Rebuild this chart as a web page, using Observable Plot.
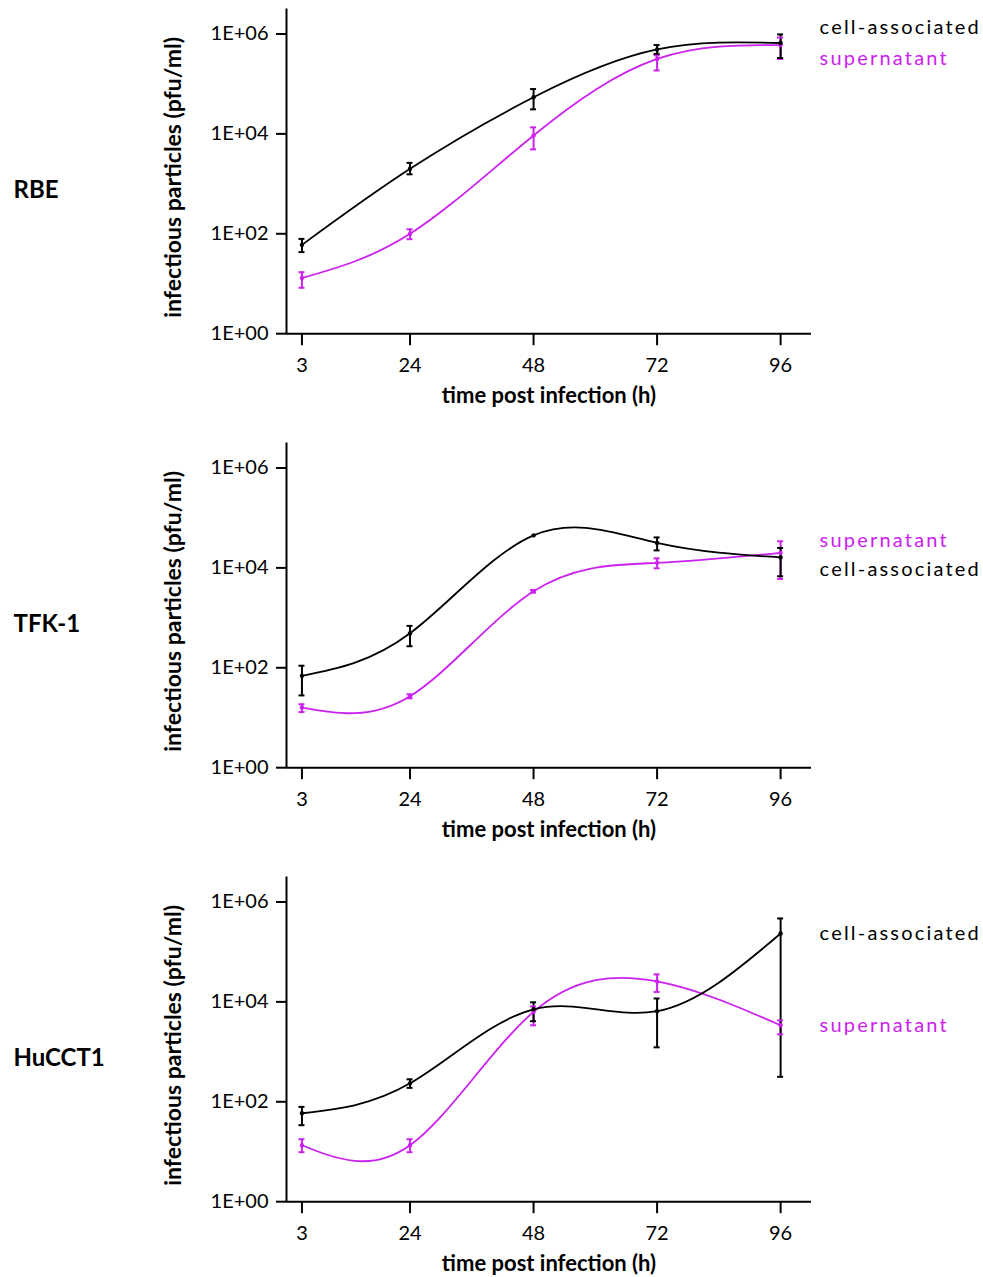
<!DOCTYPE html>
<html>
<head>
<meta charset="utf-8">
<script src="https://cdn.jsdelivr.net/npm/d3@7"></script>
<script src="https://cdn.jsdelivr.net/npm/@observablehq/plot@0.6"></script>
<style>
  html, body { margin: 0; padding: 0; background: #fff; overflow: hidden; }
  #chart svg { display: block; }
</style>
</head>
<body>
<div id="chart"></div>
<script>
// ---- data (pfu/ml) ----
const hours = [3, 24, 48, 72, 96];
const cellLines = ["RBE", "TFK-1", "HuCCT1"];
const seriesNames = ["cell-associated", "supernatant"];
const xTicks = [3, 24, 48, 72, 96];
const yTicks = [1, 100, 10000, 1000000];
const yTickLabels = ["1E+00", "1E+02", "1E+04", "1E+06"];
const xTitle = "time post infection (h)";
const yTitle = "infectious particles (pfu/ml)";

// RBE
const rbeCell      = [60, 2000, 54000, 490000, 660000];
const rbeCellLow   = [43, 1550, 31000, 400000, 330000];
const rbeCellHigh  = [79, 2630, 79000, 600000, 980000];
const rbeSup       = [13, 100, 9300, 316000, 600000];
const rbeSupLow    = [8.3, 78, 4900, 186000, 316000];
const rbeSupHigh   = [17, 123, 13500, 372000, 850000];
// TFK-1
const tfkCell      = [69, 490, 44700, 31600, 16200];
const tfkCellLow   = [28, 270, 44700, 22400, 6800];
const tfkCellHigh  = [110, 690, 44700, 40700, 25100];
const tfkSup       = [16, 27, 3400, 12600, 20000];
const tfkSupLow    = [13, 24.5, 3200, 9800, 6000];
const tfkSupHigh   = [18.6, 29.5, 3600, 15500, 34000];
// HuCCT1
const hucCell      = [59, 234, 7100, 6500, 234000];
const hucCellLow   = [34, 190, 4100, 1230, 316];
const hucCellHigh  = [79, 282, 9800, 11700, 468000];
const hucSup       = [13.5, 13.5, 6300, 25700, 3400];
const hucSupLow    = [9.8, 9.8, 3400, 15800, 2240];
const hucSupHigh   = [17.8, 17.8, 8100, 35500, 4270];

// ---- styles / layout ----
const magenta = "#cc22ee";
const fontFamily = "Lato, 'Open Sans', sans-serif";
const panels = [
  {name: cellLines[0], cell: [rbeCell, rbeCellLow, rbeCellHigh], sup: [rbeSup, rbeSupLow, rbeSupHigh], dyCell: -15, dySup: 14},
  {name: cellLines[1], cell: [tfkCell, tfkCellLow, tfkCellHigh], sup: [tfkSup, tfkSupLow, tfkSupHigh], dyCell: 12, dySup: -12},
  {name: cellLines[2], cell: [hucCell, hucCellLow, hucCellHigh], sup: [hucSup, hucSupLow, hucSupHigh], dyCell: 0, dySup: 0}
];

function buildRows(p) {
  const rows = [];
  [[seriesNames[1], p.sup], [seriesNames[0], p.cell]].forEach(([s, arr]) => {
    hours.forEach((t, i) => rows.push({series: s, t, v: arr[0][i], lo: arr[1][i], hi: arr[2][i]}));
  });
  return rows;
}

const container = document.getElementById("chart");
panels.forEach((p) => {
  const rows = buildRows(p);
  const bars = rows.filter(d => d.hi > d.lo);
  const last = rows.filter(d => d.t === hours[hours.length - 1]);
  const chart = Plot.plot({
    width: 983,
    height: 434.2,
    marginLeft: 286,
    marginRight: 172,
    marginTop: 8.5,
    marginBottom: 101,
    style: {fontFamily, fontSize: "20px", background: "#fff", color: "#000"},
    x: {domain: [0, 102]},
    y: {type: "log", domain: [1, Math.pow(10, 6.5)]},
    color: {domain: seriesNames, range: ["#000000", magenta]},
    marks: [
      Plot.ruleY([1], {stroke: "#000", strokeWidth: 2}),
      Plot.ruleX([0], {stroke: "#000", strokeWidth: 2}),
      Plot.axisX(xTicks, {tickSize: 12, tickPadding: 12, fontSize: 20, strokeWidth: 2, label: null}),
      Plot.axisY(yTicks, {tickSize: 10, tickPadding: 8, fontSize: 20, strokeWidth: 2, label: null,
        tickFormat: d => yTickLabels[yTicks.indexOf(d)]}),
      Plot.line(rows, {x: "t", y: "v", stroke: "series", z: "series", curve: "natural", strokeWidth: 1.8}),
      Plot.ruleX(bars, {x: "t", y1: "lo", y2: "hi", stroke: "series", strokeWidth: 2}),
      Plot.ruleY(bars, {y: "hi", x1: "t", x2: "t", insetLeft: -3, insetRight: -3, stroke: "series", strokeWidth: 2}),
      Plot.ruleY(bars, {y: "lo", x1: "t", x2: "t", insetLeft: -3, insetRight: -3, stroke: "series", strokeWidth: 2}),
      Plot.dot(rows, {x: "t", y: "v", fill: "series", r: 2.2}),
      Plot.text(last.filter(d => d.series === seriesNames[0]), {x: "t", y: "v", text: "series", fill: "series",
        dx: 39, dy: p.dyCell, textAnchor: "start", fontSize: 20}),
      Plot.text(last.filter(d => d.series === seriesNames[1]), {x: "t", y: "v", text: "series", fill: "series",
        dx: 39, dy: p.dySup, textAnchor: "start", fontSize: 20}),
      Plot.text([xTitle], {frameAnchor: "bottom", dy: 69, fontSize: 22, fontWeight: "bold", fill: "#000"}),
      Plot.text([yTitle], {frameAnchor: "left", textAnchor: "middle", rotate: -90, dx: -113, dy: 6, fontSize: 23, fontWeight: "bold", fill: "#000"}),
      Plot.text([p.name], {frameAnchor: "left", dx: -273, dy: 19, textAnchor: "start", fontSize: 24, fontWeight: "bold", fill: "#000"})
    ]
  });
  // letter-spaced legend labels, as in the reference
  chart.querySelectorAll("text").forEach(t => {
    if (seriesNames.includes(t.textContent)) t.style.letterSpacing = "2.2px";
  });
  container.appendChild(chart);
});
</script>
</body>
</html>
